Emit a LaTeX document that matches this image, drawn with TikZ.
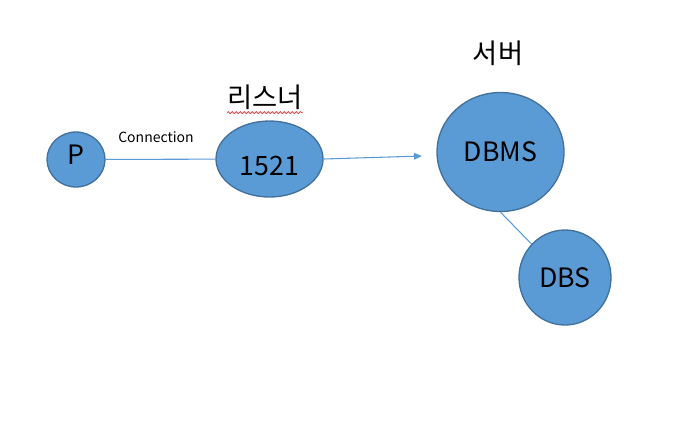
\documentclass[tikz,border=0pt]{standalone}
\usepackage{fontspec}
\setmainfont{Noto Sans CJK KR}
\usetikzlibrary{shapes.geometric,arrows.meta,decorations.pathmorphing}
\definecolor{fillblue}{HTML}{5B9BD5}
\definecolor{edgeblue}{HTML}{41719C}
\definecolor{spellred}{HTML}{E03030}
\begin{document}
\begin{tikzpicture}[x=0.75pt,y=-0.75pt,
  bubble/.style={ellipse, draw=edgeblue, fill=fillblue, line width=1pt, inner sep=0pt},
  intext/.style={label distance=0pt, inner sep=0pt, font=\fontsize{20}{23}\selectfont},
  conn/.style={draw=fillblue, line width=0.8pt},
  lbl/.style={inner sep=0pt, font=\fontsize{20.5}{24}\selectfont},
  small/.style={inner sep=0pt, font=\fontsize{10.5}{12}\selectfont}]
\useasboundingbox (0,0) rectangle (680,433);
\node[bubble, minimum width=43.5pt, minimum height=41.25pt,
  label={[intext, yshift=3.5pt]center:P}] (P) at (76,159.5) {};
\node[bubble, minimum width=80.25pt, minimum height=57pt,
  label={[intext, yshift=-5pt]center:1521}] (L) at (269.5,159) {};
\node[bubble, minimum width=95.25pt, minimum height=89.25pt,
  label={[intext]center:DBMS}] (D) at (500.5,152) {};
\node[bubble, minimum width=69pt, minimum height=71.25pt,
  label={[intext]center:DBS}] (S) at (565,277.5) {};
\coordinate (tip) at (422,156);
\node[lbl] (srv) at (498,53) {서버};
\node[lbl] (lis) at (265,97) {리스너};
\node[small] (con) at (156,137) {Connection};
\draw[spellred, line width=0.5pt, decorate, decoration={snake, amplitude=0.8pt, segment length=3pt}] ([yshift=-2.25pt]lis.south west) -- ([yshift=-2.25pt]lis.south east);
\draw[conn] (P) -- (L);
\draw[conn, -{Triangle[length=6pt,width=5pt]}] (L.east) -- (tip);
\draw[conn] (D.south) -- (S.135);
\end{tikzpicture}
\end{document}
